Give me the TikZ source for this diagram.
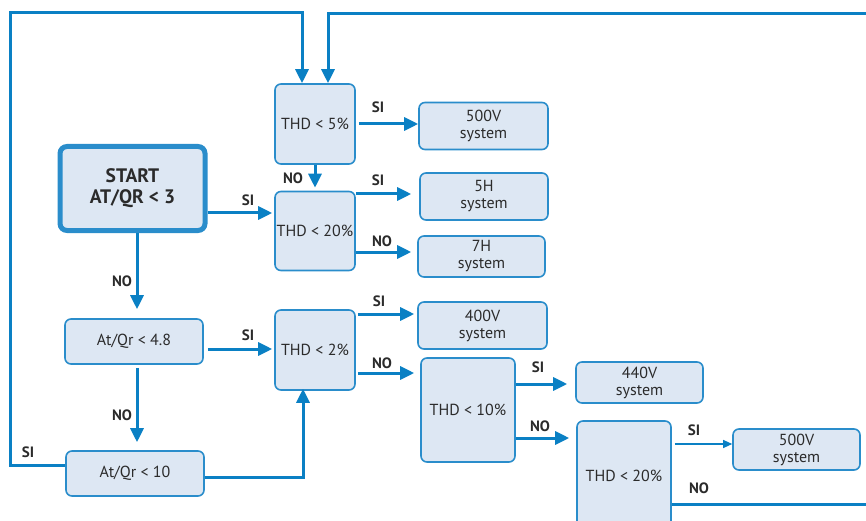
\documentclass[tikz,border=0pt]{standalone}
\usepackage{fontspec}
\setmainfont{PT Sans}
\usetikzlibrary{arrows.meta,calc}
\definecolor{boxfill}{HTML}{DDE7F3}
\definecolor{boxline}{HTML}{2A8DCB}
\definecolor{arrc}{HTML}{0A80C4}
\definecolor{txt}{HTML}{2B2B2B}
\begin{document}
\begin{tikzpicture}[x=1pt,y=-1pt,
 box/.style={draw=boxline,fill=boxfill,line width=1.6pt,rounded corners=6pt,inner sep=0pt,text=txt,font=\fontsize{16}{17}\selectfont,align=center},
 startbox/.style={box,line width=5pt,rounded corners=7pt,font=\bfseries\fontsize{19.5}{21}\selectfont},
 arr/.style={draw=arrc,line width=3pt,-{Triangle[length=14pt,width=13pt]}},
 ln/.style={draw=arrc,line width=3pt},
 thinarr/.style={draw=arrc,line width=1.1pt,-{Triangle[length=9pt,width=8pt]}},
 lab/.style={font=\bfseries\fontsize{15}{15}\selectfont,text=txt,inner sep=0pt}]
\useasboundingbox (0,0) rectangle (866,521);
% boxes
\node[box,minimum width=80pt,minimum height=80pt] (t5) at (315,124) {THD < 5\%};
\node[box,minimum width=129pt,minimum height=47pt] (s500a) at (483.5,126) {500V\\system};
\node[startbox,minimum width=145pt,minimum height=84pt] (start) at (132.5,188.5) {START\\AT/QR < 3};
\node[box,minimum width=80pt,minimum height=79pt] (t20) at (315,231) {THD < 20\%};
\node[box,minimum width=128pt,minimum height=47pt] (s5h) at (484,196.5) {5H\\system};
\node[box,minimum width=127pt,minimum height=41pt] (s7h) at (481.5,256.5) {7H\\system};
\node[box,minimum width=138pt,minimum height=45pt] (a48) at (134,341.5) {At/Qr < 4.8};
\node[box,minimum width=80pt,minimum height=80pt] (t2) at (315,350) {THD < 2\%};
\node[box,minimum width=129pt,minimum height=47pt] (s400) at (482.5,325.5) {400V\\system};
\node[box,minimum width=94pt,minimum height=104pt] (t10) at (468,410) {THD < 10\%};
\node[box,minimum width=127pt,minimum height=41pt] (s440) at (639.5,382.5) {440V\\system};
\node[box,minimum width=94pt,minimum height=109pt] (t20b) at (624,475.5) {THD < 20\%};
\node[box,minimum width=127pt,minimum height=41pt] (s500b) at (796.5,449.5) {500V\\system};
\node[box,minimum width=138pt,minimum height=45pt] (a10) at (135,473.5) {At/Qr < 10};
% free ends
\coordinate (lc) at (10,13);
\coordinate (rc) at (868,14);
\coordinate (re) at (868,0);
% connectors
\draw[arr] ([yshift=8.5pt]a10.west) -| (lc) -| ([xshift=-13pt]t5.north);
\draw[arr] (rc) -| ([xshift=13pt]t5.north);
\draw[arr] ([xshift=3pt]t5.east) -- (s500a.west |- t5.east);
\draw[arr,shorten >=3pt] (t5.south) -- (t20.north);
\draw[arr,shorten >=2pt] ([yshift=-24.5pt]start.east) coordinate (p1) -- (p1 -| t20.west);
\draw[arr,shorten >=8pt] ([yshift=37pt]t20.east) coordinate (p2) -- (p2 -| s5h.west);
\draw[arr,shorten >=6pt] ([yshift=-21pt]t20.east) coordinate (p3) -- (p3 -| s7h.west);
\draw[arr,shorten >=9pt] ([xshift=4.5pt]start.south) coordinate (p4) -- (p4 |- a48.north);
\draw[arr,shorten >=2pt] ([shift={(4pt,-7.5pt)}]a48.east) coordinate (p5) -- (p5 -| t2.west);
\draw[arr,shorten >=8pt] ([shift={(3pt,-3pt)}]a48.south) coordinate (p6) -- (p6 |- a10.north);
\draw[arr] ([yshift=-3.5pt]a10.east) -| ([shift={(-12pt,2pt)}]t2.south);
\draw[arr,shorten >=3pt] ([shift={(2pt,36pt)}]t2.east) coordinate (p7) -- (p7 -| s400.west);
\draw[arr,shorten >=6pt] ([shift={(2pt,-23pt)}]t2.east) coordinate (p8) -- (p8 -| t10.west);
\draw[arr,shorten >=8pt] ([yshift=26pt]t10.east) coordinate (p9) -- (p9 -| s440.west);
\draw[arr,shorten >=7pt] ([yshift=-28pt]t10.east) coordinate (p10) -- (p10 -| t20b.west);
\draw[thinarr] ([shift={(3pt,31.5pt)}]t20b.east) coordinate (p11) -- (p11 -| s500b.west);
\draw[ln] ([yshift=-28.5pt]t20b.east) coordinate (p12) -- (p12 -| re);
% labels
\node[lab] (l1) at (28,452) {SI};
\node[lab] (l2) at (378,107) {SI};
\node[lab] (l3) at (293,178) {NO};
\node[lab] (l4) at (248,200) {SI};
\node[lab] (l5) at (378,180) {SI};
\node[lab] (l6) at (382,241) {NO};
\node[lab] (l7) at (122,281) {NO};
\node[lab] (l8) at (248,335) {SI};
\node[lab] (l9) at (122,415) {NO};
\node[lab] (l10) at (379,301) {SI};
\node[lab] (l11) at (382,363) {NO};
\node[lab] (l12) at (538,367) {SI};
\node[lab] (l13) at (540,426) {NO};
\node[lab] (l14) at (694,430) {SI};
\node[lab] (l15) at (699,488) {NO};
\end{tikzpicture}
\end{document}
